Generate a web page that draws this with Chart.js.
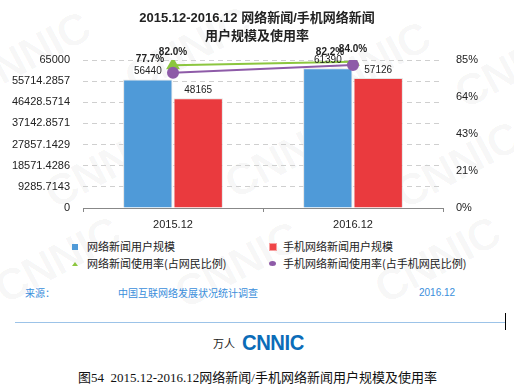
<!DOCTYPE html>
<html>
<head>
<meta charset="utf-8">
<script src="https://cdn.jsdelivr.net/npm/chart.js@4.4.0/dist/chart.umd.min.js"></script>
<style>
  html,body{margin:0;padding:0;background:#fff;}
  body{width:514px;height:390px;position:relative;overflow:hidden;font-family:"Liberation Sans","Noto Sans CJK SC",sans-serif;}
  #wrap{position:absolute;left:0;top:0;width:514px;height:232px;}
  .wm{position:absolute;font:bold 44px "Liberation Sans",sans-serif;color:rgba(0,0,0,0.035);transform:rotate(-28deg);white-space:nowrap;letter-spacing:-1px;}
  .lg{position:absolute;font-size:11px;color:#222;font-family:"Noto Sans CJK SC","Liberation Sans",sans-serif;line-height:13px;white-space:nowrap;}
  .ic{position:absolute;}
  .src{position:absolute;top:286px;font-size:10px;color:#3a8edb;font-family:"Noto Sans CJK SC","Liberation Sans",sans-serif;line-height:13px;white-space:nowrap;}
</style>
</head>
<body>
<div class="wm" style="left:-40px;top:30px;">CNNIC</div>
<div class="wm" style="left:120px;top:25px;">CNNIC</div>
<div class="wm" style="left:300px;top:40px;">CNNIC</div>
<div class="wm" style="left:450px;top:40px;">CNNIC</div>
<div class="wm" style="left:40px;top:140px;">CNNIC</div>
<div class="wm" style="left:220px;top:130px;">CNNIC</div>
<div class="wm" style="left:390px;top:140px;">CNNIC</div>
<div class="wm" style="left:-10px;top:235px;">CNNIC</div>
<div class="wm" style="left:170px;top:240px;">CNNIC</div>
<div class="wm" style="left:370px;top:235px;">CNNIC</div>

<div id="wrap"><canvas id="c" width="514" height="232"></canvas></div>

<!-- legend -->
<div class="ic" style="left:72px;top:244px;width:6px;height:6px;background:#4f9ad8;"></div>
<div class="lg" style="left:87px;top:240px;">网络新闻用户规模</div>
<div class="ic" style="left:269px;top:243px;width:6px;height:6px;background:#ef4447;border:1px solid #f7a0a0;"></div>
<div class="lg" style="left:283px;top:240px;">手机网络新闻用户规模</div>
<div class="ic" style="left:72px;top:262px;width:0;height:0;border-left:3px solid transparent;border-right:3px solid transparent;border-bottom:4px solid #8cc63f;"></div>
<div class="lg" style="left:87px;top:257px;">网络新闻使用率(占网民比例)</div>
<div class="ic" style="left:269px;top:261px;width:7px;height:5px;border-radius:50%;background:#8e5ba8;"></div>
<div class="lg" style="left:283px;top:257px;">手机网络新闻使用率(占手机网民比例)</div>

<!-- source -->
<div class="src" style="left:25px;">来源：</div>
<div class="src" style="left:118px;">中国互联网络发展状况统计调查</div>
<div class="src" style="left:419px;font-family:'Liberation Sans',sans-serif;">2016.12</div>

<div style="position:absolute;left:15px;top:322px;width:490px;height:1px;background:#9cc3e8;"></div>
<div style="position:absolute;left:505px;top:313px;width:1px;height:17px;background:#000;"></div>

<div style="position:absolute;left:213px;top:336px;font-size:11px;line-height:14px;color:#222;font-family:'Noto Sans CJK SC',sans-serif;">万人</div>
<div style="position:absolute;left:242px;top:331px;font:bold 22px/24px 'Liberation Sans',sans-serif;color:#0b6cb8;transform:scaleX(0.92);transform-origin:left center;letter-spacing:-0.5px;">CNNIC</div>

<div style="position:absolute;left:78px;top:369px;font-size:13px;line-height:18px;color:#111;font-family:'Liberation Serif','Noto Sans CJK SC',serif;white-space:nowrap;">图54&nbsp;&nbsp;2015.12-2016.12网络新闻/手机网络新闻用户规模及使用率</div>

<script>
// ---- data ----
const categories = ['2015.12', '2016.12'];
const newsUsers = [56440, 61390];          // 网络新闻用户规模 (万人)
const mobileNewsUsers = [48165, 57126];    // 手机网络新闻用户规模 (万人)
const newsRate = [82.0, 84.0];             // 网络新闻使用率 (%)
const mobileNewsRate = [77.7, 82.2];       // 手机网络新闻使用率 (%)
const leftTickLabels = ['0', '9285.7143', '18571.4286', '27857.1429', '37142.8571', '46428.5714', '55714.2857', '65000'];
const rightTickValues = [0, 21.25, 42.5, 63.75, 85];
const rightTickLabels = ['0%', '21%', '43%', '64%', '85%'];

const FONT = '"Liberation Sans","Noto Sans CJK SC",sans-serif';

const labelPlugin = {
  id: 'valueLabels',
  afterDatasetsDraw(chart) {
    const ctx = chart.ctx;
    ctx.save();
    ctx.textAlign = 'center';
    ctx.textBaseline = 'middle';
    chart.data.datasets.forEach((ds, i) => {
      const meta = chart.getDatasetMeta(i);
      meta.data.forEach((el, j) => {
        const v = ds.data[j];
        if (ds.type === 'line') {
          ctx.font = 'bold 10px ' + FONT;
          ctx.fillStyle = '#222';
          const dx = ds.labelDx || 0;
          ctx.fillText(v.toFixed(1) + '%', el.x + dx, el.y - 13);
        } else {
          ctx.font = '10px ' + FONT;
          ctx.fillStyle = '#222';
          ctx.fillText(String(v), el.x, el.y - 8);
        }
      });
    });
    ctx.restore();
  }
};

new Chart(document.getElementById('c'), {
  type: 'bar',
  data: {
    labels: categories,
    datasets: [
      { type: 'line', label: '网络新闻使用率(占网民比例)', data: newsRate, yAxisID: 'y1',
        borderColor: '#8cc63f', backgroundColor: '#8cc63f', borderWidth: 2,
        pointStyle: 'triangle', pointRadius: 6, pointHoverRadius: 6, order: 1, labelDx: 0 },
      { type: 'line', label: '手机网络新闻使用率(占手机网民比例)', data: mobileNewsRate, yAxisID: 'y1',
        borderColor: '#8e5ba8', backgroundColor: '#8e5ba8', borderWidth: 2,
        pointStyle: 'circle', pointRadius: 5, pointHoverRadius: 5, order: 0, labelDx: -23 },
      { label: '网络新闻用户规模', data: newsUsers, yAxisID: 'y',
        backgroundColor: '#4f9ad8', borderColor: '#e4e4e4', borderWidth: 1,
        categoryPercentage: 0.56, barPercentage: 0.98, order: 2 },
      { label: '手机网络新闻用户规模', data: mobileNewsUsers, yAxisID: 'y',
        backgroundColor: '#ea3a3e', borderColor: '#e4e4e4', borderWidth: 1,
        categoryPercentage: 0.56, barPercentage: 0.98, order: 2 }
    ]
  },
  options: {
    responsive: false,
    animation: false,
    layout: { padding: { top: 0, bottom: 0, left: 0, right: 0 } },
    plugins: {
      legend: { display: false },
      tooltip: { enabled: false },
      title: {
        display: true,
        text: ['2015.12-2016.12 网络新闻/手机网络新闻', '用户规模及使用率'],
        color: '#222',
        font: { family: FONT, size: 13, weight: 'bold', lineHeight: 1.385 },
        padding: { top: 9, bottom: 15 }
      }
    },
    scales: {
      x: {
        grid: { display: true, drawOnChartArea: false, drawTicks: true, tickLength: 4, color: '#888', offset: true },
        border: { display: true, color: '#888', width: 1 },
        ticks: { color: '#222', font: { family: FONT, size: 11 }, padding: 6 },
        afterFit(s) { s.height = 24; }
      },
      y: {
        position: 'left',
        min: 0, max: 65000,
        afterBuildTicks(s) { s.ticks = leftTickLabels.map(t => ({ value: parseFloat(t) })); },
        ticks: {
          color: '#222', font: { family: FONT, size: 11 }, padding: 13,
          callback: (v, i) => leftTickLabels[i]
        },
        grid: { color: '#cfcfcf', drawTicks: false, borderDash: [5, 4] },
        border: { display: false, dash: [5, 4] },
        afterFit(s) { s.width = 83; }
      },
      y1: {
        position: 'right',
        min: 0, max: 85,
        afterBuildTicks(s) { s.ticks = rightTickValues.map(v => ({ value: v })); },
        ticks: {
          color: '#222', font: { family: FONT, size: 11 }, padding: 13,
          callback: (v, i) => rightTickLabels[i]
        },
        grid: { display: false, drawTicks: false },
        border: { display: false },
        afterFit(s) { s.width = 71; }
      }
    }
  },
  plugins: [labelPlugin]
});
</script>
</body>
</html>
